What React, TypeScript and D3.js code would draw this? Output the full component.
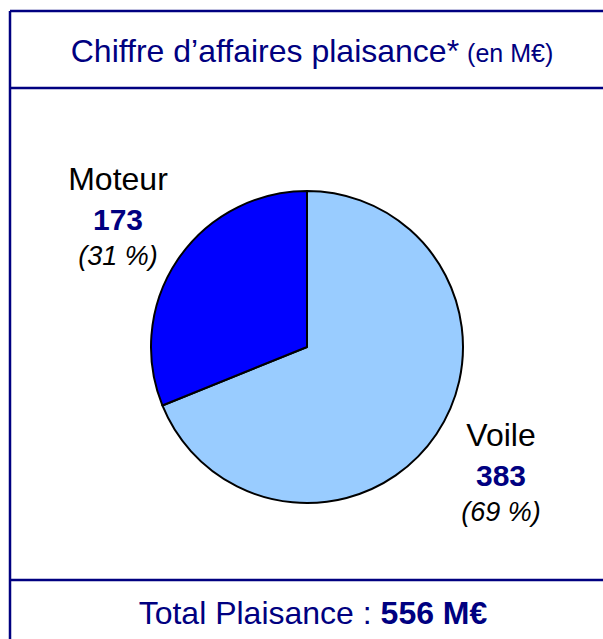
import React from "react";
import * as d3 from "d3";

const categories = ["Voile", "Moteur"];
const values = [383, 173];
const percents = ["(69 %)", "(31 %)"];
const colors = ["#99CCFF", "#0000FF"];
const title = "Chiffre d\u2019affaires plaisance*";
const titleUnit = "(en M\u20AC)";
const totalLabel = "Total Plaisance : ";
const totalValue = "556 M\u20AC";

const W = 603;
const H = 639;
const NAVY = "#000080";
const FONT = "'Liberation Sans', Arial, sans-serif";

export default function App() {
  const cx = 307;
  const cy = 347;
  const r = 156;
  const pie = d3.pie<number>().sort(null).value((d) => d);
  const arcs = pie(values);
  const arcGen = d3.arc<d3.PieArcDatum<number>>().innerRadius(0).outerRadius(r);

  // label anchor positions (relative to pie center)
  const labelPos: Record<string, [number, number]> = {
    Moteur: [-189, -157],
    Voile: [194, 99],
  };

  return (
    <svg
      width={W}
      height={H}
      style={{ position: "absolute", left: 0, top: 0, background: "#fff" }}
      fontFamily={FONT}
    >
      {/* frame */}
      <g stroke={NAVY} strokeWidth={2.5} fill="none">
        <line x1={10} y1={11} x2={W + 5} y2={11} />
        <line x1={10} y1={11} x2={10} y2={H + 5} />
        <line x1={10} y1={88} x2={W + 5} y2={88} />
        <line x1={10} y1={580} x2={W + 5} y2={580} />
      </g>

      {/* title */}
      <text x={312} y={62} textAnchor="middle" fill={NAVY} fontSize={32}>
        {title}
        <tspan fontSize={25} dx={8}>{titleUnit}</tspan>
      </text>

      {/* pie */}
      <g transform={`translate(${cx},${cy})`}>
        {arcs.map((a, i) => (
          <path key={categories[i]} d={arcGen(a) || ""} fill={colors[i]} stroke="#000" strokeWidth={2} strokeLinejoin="round" />
        ))}
        {arcs.map((a, i) => {
          const [lx, ly] = labelPos[categories[i]];
          return (
            <g key={"l" + categories[i]} transform={`translate(${lx},${ly})`} textAnchor="middle">
              <text y={0} fontSize={32} fill="#000">{categories[i]}</text>
              <text y={40} fontSize={30} fontWeight="bold" fill={NAVY}>{a.data}</text>
              <text y={75} fontSize={27} fontStyle="italic" fill="#000">{percents[i]}</text>
            </g>
          );
        })}
      </g>

      {/* total */}
      <text x={313} y={624} textAnchor="middle" fill={NAVY} fontSize={32}>
        {totalLabel}
        <tspan fontWeight="bold">{totalValue}</tspan>
      </text>
    </svg>
  );
}
